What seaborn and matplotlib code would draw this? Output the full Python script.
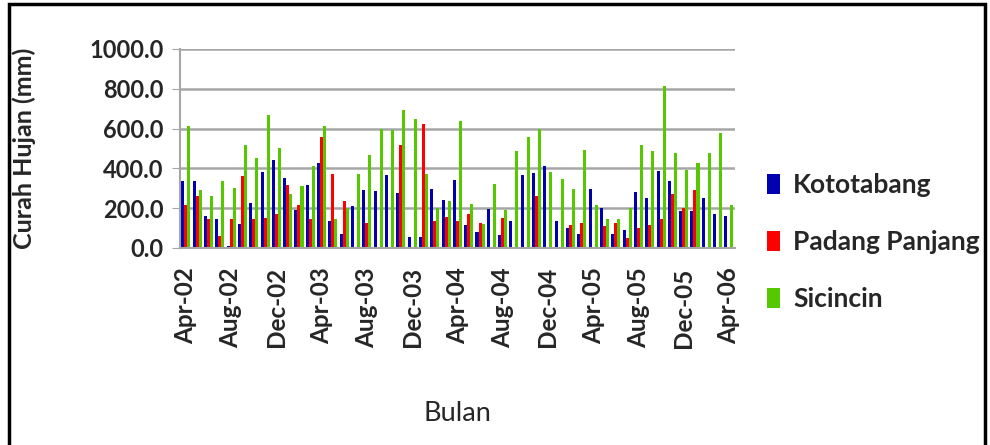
import numpy as np
import pandas as pd
import matplotlib
matplotlib.use("Agg")
import matplotlib.pyplot as plt
import seaborn as sns

# Curah hujan bulanan (mm), Apr-02 .. Apr-06
bulan = pd.date_range("2002-04-01", "2006-04-01", freq="MS").strftime("%b-%y").tolist()

kototabang = [336, 336, 158, 146, 7, 121, 227, 380, 442, 353, 192, 314, 425,
              133, 71, 208, 291, 286, 368, 277, 57, 57, 297, 242, 341, 113,
              82, 197, 64, 133, 366, 378, 412, 133, 102, 71, 297, 202, 71, 91,
              279, 252, 385, 334, 185, 185, 252, 171, 158]
padang_panjang = [213, 259, 146, 62, 146, 360, 146, 151, 168, 318, 217, 146, 556,
                  373, 235, np.nan, 126, np.nan, np.nan, 519, np.nan, 625, 133, 153, 134, 171,
                  126, np.nan, 151, np.nan, np.nan, 259, np.nan, np.nan, 114, 126, np.nan, 108, 126, 52,
                  101, 113, 146, 272, 202, 291, np.nan, np.nan, np.nan]
sicincin = [613, 291, 259, 334, 302, 519, 454, 669, 502, 272, 311, 412, 613,
            146, 200, 373, 469, 598, 595, 694, 650, 373, 200, 234, 637, 222,
            119, 323, 188, 486, 556, 596, 380, 348, 297, 492, 215, 146, 146, 200,
            519, 486, 815, 479, 393, 428, 479, 575, 213]

stasiun = ["Kototabang", "Padang Panjang", "Sicincin"]
warna = ["#0000B0", "#FF0000", "#55C800"]

df = pd.DataFrame({"Bulan": bulan, "Kototabang": kototabang,
                   "Padang Panjang": padang_panjang, "Sicincin": sicincin})
df_long = df.melt(id_vars="Bulan", var_name="Stasiun", value_name="Curah")

sns.set_style("white")
plt.rcParams["font.family"] = ["Lato", "DejaVu Sans"]

fig = plt.figure(figsize=(9.9, 4.45), dpi=100)
ax = fig.add_axes([0.182, 0.443, 0.560, 0.447])

sns.barplot(data=df_long, x="Bulan", y="Curah", hue="Stasiun", hue_order=stasiun,
            palette=warna, width=0.8, ax=ax, saturation=1, linewidth=0)

ax.set_ylim(0, 1000)
ax.set_yticks(np.arange(0, 1001, 200))
ax.set_yticklabels([f"{v:.1f}" for v in np.arange(0, 1001, 200)],
                   fontsize=17, fontweight="bold")
ax.yaxis.grid(True, color="#A6A6A6", linewidth=1.8)
ax.set_axisbelow(True)

ticks = list(range(0, len(bulan), 4))
ax.set_xticks(ticks)
ax.set_xticklabels([bulan[i] for i in ticks], rotation=90,
                   fontsize=17.5, fontweight="bold")
ax.set_xlim(-0.5, len(bulan) - 0.5)

ax.tick_params(axis="y", length=6, color="#A6A6A6", pad=6, left=True)
ax.tick_params(axis="x", length=0, pad=14)
for s in ["top", "right"]:
    ax.spines[s].set_visible(False)
for s in ["left", "bottom"]:
    ax.spines[s].set_color("#A6A6A6")
    ax.spines[s].set_linewidth(1.5)

ax.set_ylabel("Curah Hujan (mm)", fontsize=18, fontweight="bold", labelpad=38)
ax.set_xlabel("Bulan", fontsize=19.5, labelpad=38)

ax.legend(loc="center left", bbox_to_anchor=(1.015, 0.03), frameon=False,
          handlelength=0.5, handleheight=0.8, handletextpad=0.5,
          labelspacing=1.25, prop={"weight": "bold", "size": 19})

# bingkai luar seperti chart Excel
fig.patches.append(plt.Rectangle((0.009, -0.02), 0.986, 1.01, transform=fig.transFigure,
                                 fill=False, edgecolor="black", linewidth=2.5))

fig.savefig("out.png", dpi=100)
